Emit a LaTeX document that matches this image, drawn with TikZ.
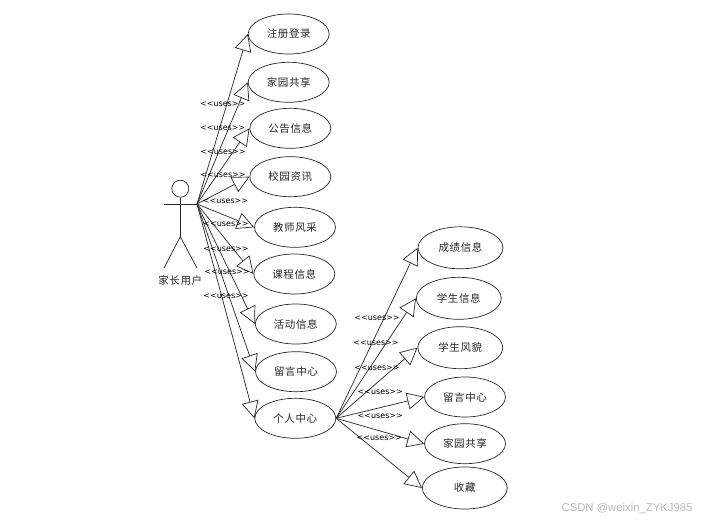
\documentclass[tikz,border=0pt]{standalone}
\usepackage{fontspec}
\newfontfamily\cjk[LetterSpace=6]{Noto Sans CJK SC}
\newfontfamily\usesfont{DejaVu Sans}
\newfontfamily\markfont{Liberation Sans}
\usetikzlibrary{arrows.meta,shapes.geometric}
\tikzset{
  usecase/.style={draw, ellipse, inner sep=0pt, minimum width=81pt, minimum height=40pt, font=\cjk\fontsize{10.5}{12}\selectfont},
  bigcase/.style={usecase, minimum width=85pt, minimum height=42pt},
  uses/.style={inner sep=0pt, text=black, font=\usesfont\fontsize{8}{9}\selectfont},
  link/.style={-{Triangle[open,length=17pt,width=17pt]}, line width=0.7pt}
}
\begin{document}
\begin{tikzpicture}[x=1pt, y=-1pt, line width=0.7pt, black!85]
  \useasboundingbox (0,0) rectangle (714,522);
  % actor
  \node[draw, circle, inner sep=0pt, minimum size=17pt] (head) at (180.3,188.7) {};
  \coordinate (lefthand) at (164,204);
  \coordinate (hand) at (197,204);
  \coordinate (hip) at (180.3,236.7);
  \coordinate (leftfoot) at (164,268);
  \coordinate (rightfoot) at (197,268);
  \draw (head) -- (hip);
  \draw (lefthand) -- (hand);
  \draw (leftfoot) -- (hip) -- (rightfoot);
  \node[inner sep=0pt, font=\cjk\fontsize{10.5}{12}\selectfont] (parent) at (180.3,281) {家长用户};
  % left column
  \node[usecase] (register) at (288.7,34) {注册登录};
  \node[usecase] (share) at (288.7,82.3) {家园共享};
  \node[usecase] (notice) at (290.3,128.3) {公告信息};
  \node[usecase] (news) at (290.3,176.7) {校园资讯};
  \node[usecase] (teacher) at (295,227.3) {教师风采};
  \node[usecase] (course) at (294.3,274) {课程信息};
  \node[usecase] (event) at (295.8,324) {活动信息};
  \node[usecase] (message) at (296,371.7) {留言中心};
  \node[usecase] (personal) at (295.3,418.3) {个人中心};
  % right column
  \node[bigcase] (grade) at (460.5,247.8) {成绩信息};
  \node[bigcase] (student) at (458.8,298.3) {学生信息};
  \node[bigcase] (style) at (460.3,347.7) {学生风貌};
  \node[usecase] (mymessage) at (465,397) {留言中心};
  \node[usecase] (myshare) at (465,443.7) {家园共享};
  \node[bigcase] (favorite) at (464.8,488) {收藏};
  % connectors
  \draw[link] (hand) -- (register.west);
  \draw[link] (hand) -- (share.west);
  \draw[link] (hand) -- (notice.west);
  \draw[link] (hand) -- (news.west);
  \draw[link] (hand) -- (teacher.west);
  \draw[link] (hand) -- (course.west);
  \draw[link] (hand) -- (event.west);
  \draw[link] (hand) -- (message.west);
  \draw[link] (hand) -- (personal.west);
  \draw[link] (personal.east) -- (grade.west);
  \draw[link] (personal.east) -- (student.west);
  \draw[link] (personal.east) -- (style.west);
  \draw[link] (personal.east) -- (mymessage.west);
  \draw[link] (personal.east) -- (myshare.west);
  \draw[link] (personal.east) -- (favorite.west);
  % labels
  \node[uses] (u1) at (222.7,104.5) {<<uses>>};
  \node[uses] (u2) at (222.7,128.5) {<<uses>>};
  \node[uses] (u3) at (223,152) {<<uses>>};
  \node[uses] (u4) at (223,175.5) {<<uses>>};
  \node[uses] (u5) at (225.5,201.5) {<<uses>>};
  \node[uses] (u6) at (226,224.3) {<<uses>>};
  \node[uses] (u7) at (226,249.5) {<<uses>>};
  \node[uses] (u8) at (227,272.7) {<<uses>>};
  \node[uses] (u9) at (226,296.5) {<<uses>>};
  \node[uses] (v1) at (377,318.3) {<<uses>>};
  \node[uses] (v2) at (376,343.7) {<<uses>>};
  \node[uses] (v3) at (377,368.7) {<<uses>>};
  \node[uses] (v4) at (380.3,392.7) {<<uses>>};
  \node[uses] (v5) at (380.3,416.7) {<<uses>>};
  \node[uses] (v6) at (379.3,438.7) {<<uses>>};
  \node[inner sep=0pt, text=black!28, font=\markfont\fontsize{11.3}{13}\selectfont] (mark) at (627,509) {CSDN @weixin\_ZYKJ985};
\end{tikzpicture}
\end{document}
